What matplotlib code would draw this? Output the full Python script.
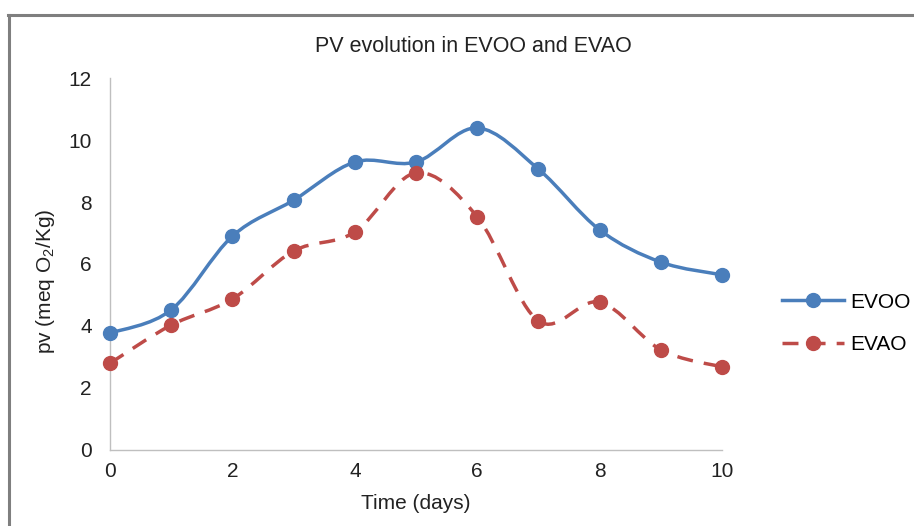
import numpy as np
import matplotlib
matplotlib.use("Agg")
import matplotlib.pyplot as plt
from matplotlib.path import Path
from matplotlib.patches import PathPatch
from matplotlib.lines import Line2D

plt.rcParams['font.family'] = ['Liberation Sans', 'DejaVu Sans']
plt.rcParams['mathtext.fontset'] = 'custom'
plt.rcParams['mathtext.rm'] = 'Liberation Sans'

# data
days = [0, 1, 2, 3, 4, 5, 6, 7, 8, 9, 10]
evoo = [3.77, 4.52, 6.90, 8.06, 9.29, 9.29, 10.39, 9.06, 7.10, 6.06, 5.65]
evao = [2.80, 4.03, 4.87, 6.42, 7.03, 8.94, 7.52, 4.16, 4.77, 3.23, 2.68]

blue = '#4A7EBB'
red = '#BE4B48'
txt = '#222222'
fs = 15
lw = 2.5


def smooth_path(x, y):
    # excel-like smoothed line: cubic bezier between points
    pts = np.column_stack([x, y]).astype(float)
    n = len(pts)
    verts = [pts[0]]
    codes = [Path.MOVETO]
    for i in range(n - 1):
        p0 = pts[max(i - 1, 0)]
        p1 = pts[i]
        p2 = pts[i + 1]
        p3 = pts[min(i + 2, n - 1)]
        c1 = p1 + (p2 - p0) / 6.0
        c2 = p2 - (p3 - p1) / 6.0
        verts += [c1, c2, p2]
        codes += [Path.CURVE4] * 3
    return Path(verts, codes)


fig = plt.figure(figsize=(9.14, 5.26), dpi=100)
ax = fig.add_axes([0.1204, 0.1445, 0.6696, 0.7072])

ax.add_patch(PathPatch(smooth_path(days, evoo), fill=False, edgecolor=blue,
                       lw=lw, capstyle='round', joinstyle='round', clip_on=False))
ax.add_patch(PathPatch(smooth_path(days, evao), fill=False, edgecolor=red,
                       lw=lw, linestyle=(0, (4.6, 3.2)), capstyle='butt', clip_on=False))
ax.plot(days, evoo, 'o', color=blue, ms=10, mec=blue, zorder=3, clip_on=False)
ax.plot(days, evao, 'o', color=red, ms=10, mec=red, zorder=3, clip_on=False)

ax.set_xlim(0, 10)
ax.set_ylim(0, 12)
ax.set_xticks(range(0, 11, 2))
ax.set_yticks(range(0, 13, 2))
ax.tick_params(length=0, labelsize=fs, colors=txt)
ax.tick_params(axis='y', pad=13)
ax.tick_params(axis='x', pad=9)
for s in ['top', 'right']:
    ax.spines[s].set_visible(False)
for s in ['left', 'bottom']:
    ax.spines[s].set_color('#BFBFBF')
    ax.spines[s].set_linewidth(1)

ax.set_xlabel('Time (days)', fontsize=fs, color=txt, labelpad=9)
ax.set_ylabel('pv (meq O$_\\mathregular{2}$/Kg)', fontsize=fs, color=txt)
ax.yaxis.set_label_coords(-0.086, 0.454)

fig.text(473 / 914, 1 - 47 / 526, 'PV evolution in EVOO and EVAO', ha='center', va='center',
         fontsize=15.5, color=txt)

handles = [
    Line2D([], [], color=blue, lw=lw, marker='o', ms=10),
    Line2D([], [], color=red, lw=lw, linestyle=(0, (4.6, 3.2)), marker='o', ms=10),
]
fig.legend(handles, ['EVOO', 'EVAO'], loc='center left', bbox_to_anchor=(0.846, 0.385),
           frameon=False, fontsize=fs, handlelength=3.0, labelspacing=1.15,
           handletextpad=0.3, borderaxespad=0)

# outer frame (top and left edges visible)
fig.add_artist(Line2D([8 / 914, 1], [1 - 15 / 526, 1 - 15 / 526], color='#7F7F7F', lw=2.2,
                      transform=fig.transFigure))
fig.add_artist(Line2D([9 / 914, 9 / 914], [0, 1 - 15 / 526], color='#7F7F7F', lw=2.2,
                      transform=fig.transFigure))

fig.savefig('out.png', dpi=100)
